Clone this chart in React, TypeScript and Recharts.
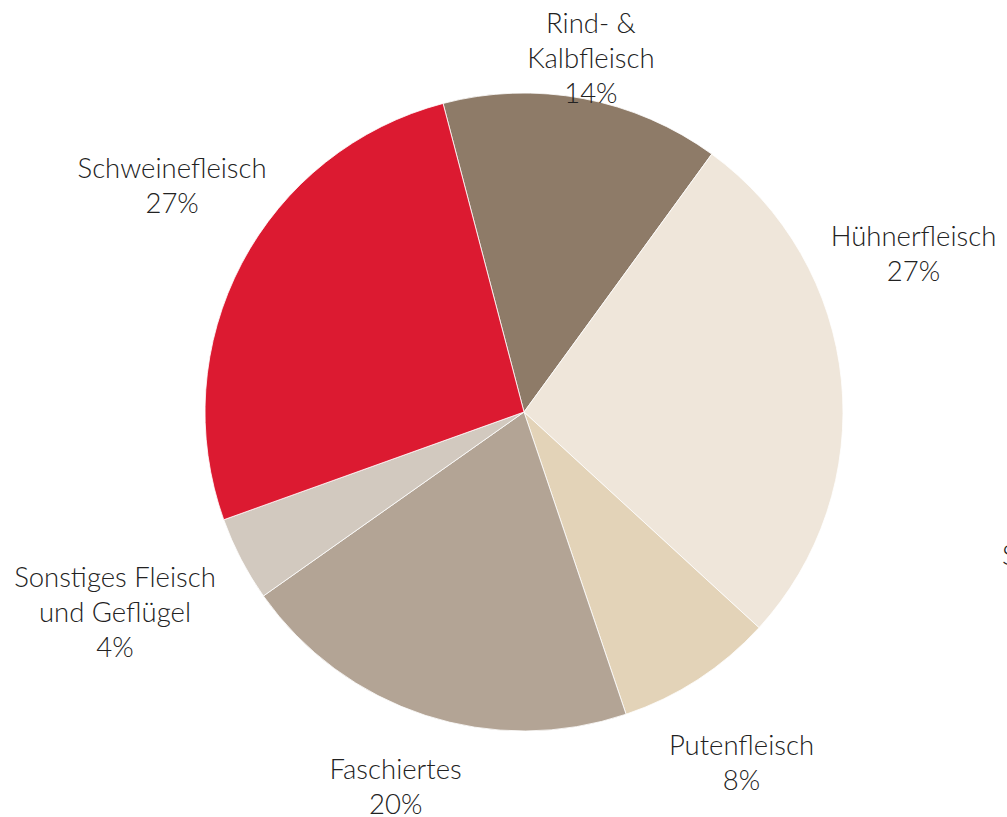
import React from "react";
import { PieChart, Pie, Cell } from "recharts";

const categories = ["Rind- &\nKalbfleisch", "Hühnerfleisch", "Putenfleisch", "Faschiertes", "Sonstiges Fleisch\nund Geflügel", "Schweinefleisch"];
const shares = [14.1, 26.8, 8.0, 20.4, 4.3, 26.4];
const percentLabels = ["14%", "27%", "8%", "20%", "4%", "27%"];
const colors = ["#8e7b68", "#efe6da", "#e3d3b8", "#b3a495", "#d2c9bf", "#dc1a31"];

// label placement nudges: [extra radius, angle offset in degrees]
const LABEL_NUDGE: [number, number][] = [
  [42, 0],
  [102, -16.6],
  [93, 1.2],
  [76, 0.9],
  [136, 1.5],
  [100, 5.1],
];

const data = categories.map((name, i) => ({ name, value: shares[i], pct: percentLabels[i] }));

const FONT = "Lato, 'Open Sans', sans-serif";
const LINE_H = 35;
const FS = 27.5;

const renderLabel = (props: any) => {
  const { cx, cy, midAngle, outerRadius, index } = props;
  const [dr, da] = LABEL_NUDGE[index];
  const theta = ((90 - midAngle + da) * Math.PI) / 180;
  const r = outerRadius + dr;
  const x = cx + r * Math.sin(theta);
  const y = cy - r * Math.cos(theta);
  const lines = [...categories[index].split("\n"), percentLabels[index]];
  const start = -((lines.length - 1) / 2) * LINE_H;
  return (
    <text
      key={`l-${index}`}
      x={x}
      y={y}
      textAnchor="middle"
      dominantBaseline="central"
      fill="#222"
      style={{ fontFamily: FONT, fontSize: FS, fontWeight: 300 }}
    >
      {lines.map((ln, k) => (
        <tspan key={k} x={x} y={y + start + k * LINE_H} dominantBaseline="central">
          {ln}
        </tspan>
      ))}
    </text>
  );
};

export default function App() {
  return (
    <div style={{ position: "absolute", left: 0, top: 0, width: 1007, height: 817, background: "#fff", overflow: "hidden" }}>
      <PieChart width={1007} height={817} margin={{ top: 0, right: 0, bottom: 0, left: 0 }}>
        <Pie
          data={data}
          dataKey="value"
          nameKey="name"
          cx={524}
          cy={412}
          outerRadius={319}
          startAngle={104.7}
          endAngle={-255.3}
          stroke="#ffffff"
          strokeWidth={0.8}
          label={renderLabel}
          labelLine={false}
          isAnimationActive={false}
        >
          {data.map((d, i) => (
            <Cell key={d.name} fill={colors[i]} />
          ))}
        </Pie>
        <text x={1002} y={565} fill="#222" style={{ fontFamily: FONT, fontSize: FS, fontWeight: 300 }}>
          S
        </text>
      </PieChart>
    </div>
  );
}
